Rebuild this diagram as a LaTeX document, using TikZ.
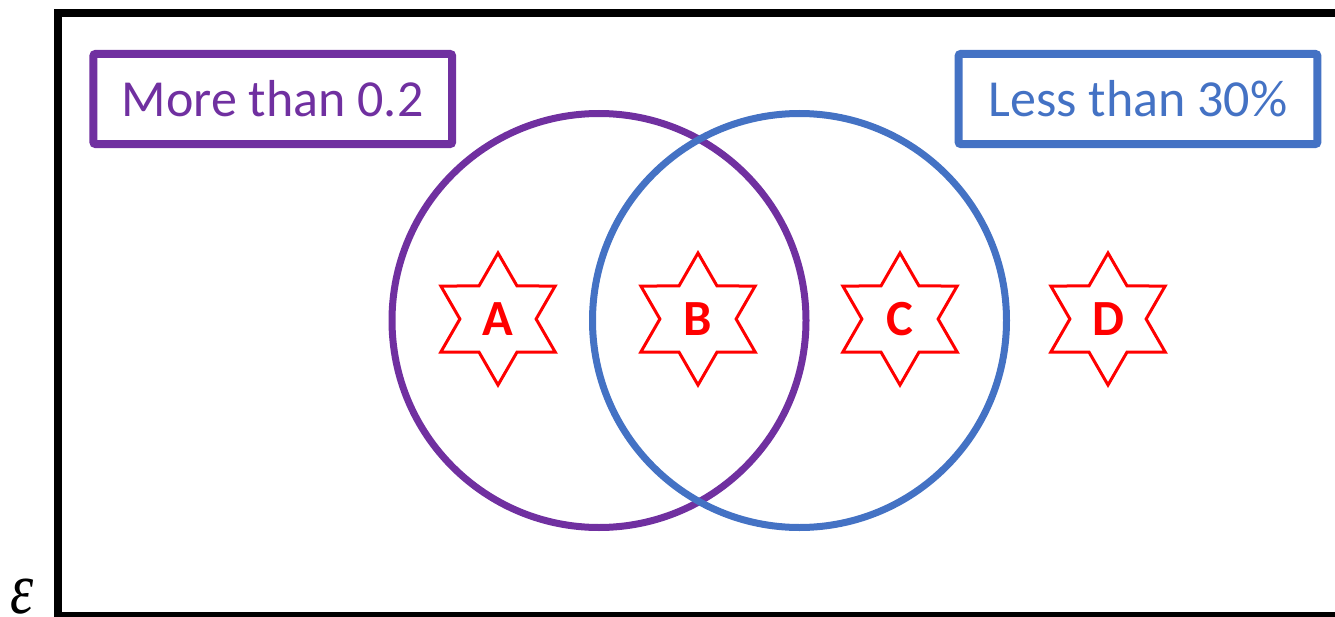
\documentclass[tikz,border=0pt]{standalone}
\usepackage{fontspec}
\setmainfont{Carlito}
\newfontfamily\epsfont{Liberation Serif}
\usepackage{tikz}
\usetikzlibrary{shapes.geometric}
\definecolor{setPurple}{HTML}{7030A0}
\definecolor{setBlue}{HTML}{4472C4}
\definecolor{starRed}{HTML}{FF0000}
\tikzset{
  setcircle/.style={circle, line width=5.25pt, minimum size=310.5pt, inner sep=0pt},
  setlabel/.style={rectangle, rounded corners=1.5pt, line width=6pt, minimum width=269pt, minimum height=67.5pt, inner sep=0pt, font=\fontsize{39}{42}\selectfont},
  elem/.style={star, star points=6, star point ratio=1.732, draw=starRed, line width=2.25pt, minimum size=99pt, inner sep=0pt, text=starRed, font=\fontsize{38}{41}\selectfont\bfseries}
}
\begin{document}
\begin{tikzpicture}[x=0.75pt, y=-0.75pt]
  \useasboundingbox (0,0) rectangle (1335,617);
  \clip (0,0) rectangle (1335,617);
  \draw[line width=6pt] (57.5,13.5) rectangle (1400,615.5);
  \node[font=\epsfont\itshape\fontsize{55}{55}\selectfont, xscale=0.8, inner sep=0pt] (univ) at (22,597) {ε};
  \node[setcircle, draw=setPurple] (more) at (599,320.5) {};
  \node[setcircle, draw=setBlue] (less) at (799.5,320.5) {};
  \node[setlabel, draw=setPurple, text=setPurple] (moreLabel) at (272.75,99) {More than 0.2};
  \node[setlabel, draw=setBlue, text=setBlue] (lessLabel) at (1138,99) {Less than 30\%};
  \node[elem] (a) at (498,319) {A};
  \node[elem] (b) at (698,319) {B};
  \node[elem] (c) at (900,319) {C};
  \node[elem] (d) at (1108,319) {D};
\end{tikzpicture}
\end{document}
